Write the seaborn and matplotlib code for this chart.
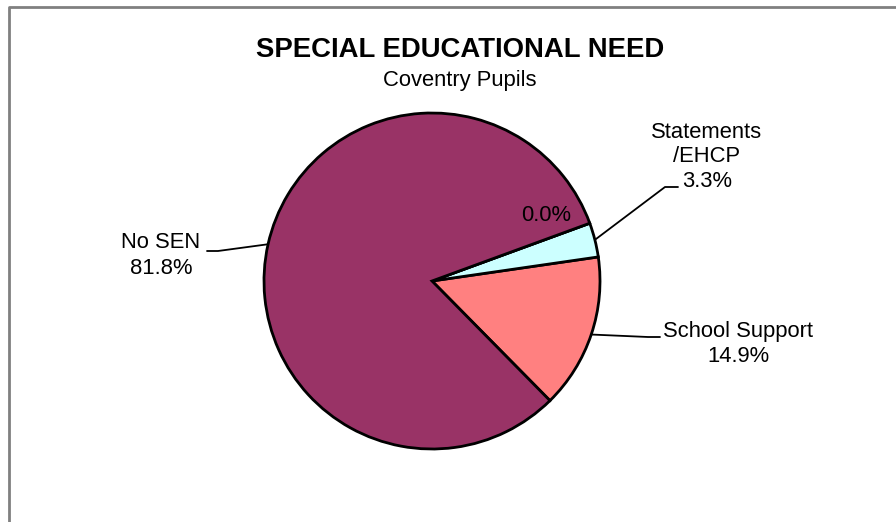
import numpy as np
import matplotlib.pyplot as plt
import seaborn as sns

# Data (order as drawn counter-clockwise from the start angle)
categories = ["School Support", "Statements\n/EHCP", "", "No SEN"]
values = [14.9, 3.3, 0.0, 81.8]
colors = ["#FF8080", "#CCFFFF", "#993366", "#993366"]

sns.set_theme(style="white")
plt.rcParams['font.family'] = ['Liberation Sans', 'DejaVu Sans']
plt.rcParams['text.color'] = 'black'

W, H = 896, 522
fig = plt.figure(figsize=(W / 100, H / 100), dpi=100)
ax = fig.add_axes([0, 0, 1, 1])


def yy(y_top):
    # convert pixel row (from top) to axis y
    return H - y_top


cx, cy, rad = 432, yy(281), 168
wedges, _ = ax.pie(values, colors=colors, startangle=-45.4, counterclock=True,
                   center=(cx, cy), radius=rad,
                   wedgeprops=dict(edgecolor='black', linewidth=2))
ax.set_xlim(0, W)
ax.set_ylim(0, H)
ax.set_aspect('equal')
ax.axis('off')

# outer frame (partly cut off at right / bottom)
ax.plot([9, 9, W], [0, yy(7), yy(7)], color='#808080', lw=2, clip_on=False)

# titles
ax.text(460, yy(57), "SPECIAL EDUCATIONAL NEED", ha='center', va='baseline',
        fontsize=19.8, fontweight='bold', color='black')
ax.text(460, yy(86), "Coventry Pupils", ha='center', va='baseline', fontsize=15.8,
        color='black')

fs = 15.8


def edge_point(w):
    t = np.deg2rad((w.theta1 + w.theta2) / 2)
    return cx + rad * np.cos(t), cy + rad * np.sin(t)


def pct(v):
    return f"{v:.1f}%"


# School Support
ex, ey = edge_point(wedges[0])
ax.plot([ex, 648, 660], [ey, yy(337), yy(337)], color='black', lw=1.3)
ax.text(738, yy(337), categories[0], ha='center', va='baseline', fontsize=fs)
ax.text(738, yy(362), pct(values[0]), ha='center', va='baseline', fontsize=fs)

# Statements /EHCP
ex, ey = edge_point(wedges[1])
ax.plot([ex, 665, 678], [ey, yy(187), yy(187)], color='black', lw=1.3)
for i, line in enumerate(categories[1].split("\n") + [pct(values[1])]):
    ax.text(707, yy(138 + 24.5 * i), line, ha='center', va='baseline', fontsize=fs)

# zero slice
ax.text(546, yy(221), pct(values[2]), ha='center', va='baseline', fontsize=fs)

# No SEN
ex, ey = edge_point(wedges[3])
ax.plot([207, 218, ex], [yy(251), yy(251), ey], color='black', lw=1.3)
ax.text(161, yy(248), categories[3], ha='center', va='baseline', fontsize=fs)
ax.text(161, yy(274), pct(values[3]), ha='center', va='baseline', fontsize=fs)

fig.savefig("out.png", dpi=100)
